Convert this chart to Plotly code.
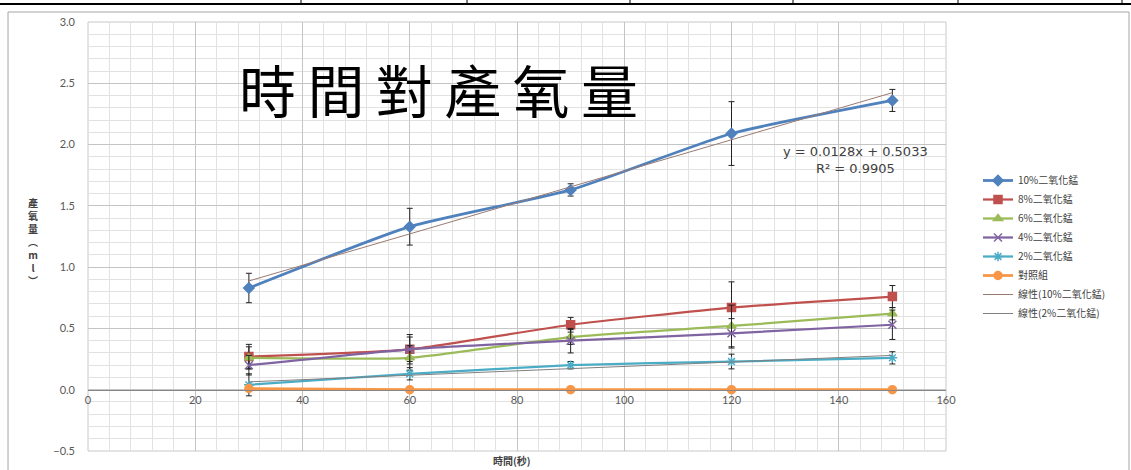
import numpy as np
import plotly.graph_objects as go

# Time points (seconds)
times = [30, 60, 90, 120, 150]

# Oxygen produced (ml), mean and error for each MnO2 concentration
o2_10 = [0.83, 1.33, 1.63, 2.09, 2.36]
err_10 = [0.12, 0.15, 0.05, 0.26, 0.09]
o2_8 = [0.27, 0.33, 0.53, 0.67, 0.76]
err_8 = [0.10, 0.12, 0.06, 0.21, 0.09]
o2_6 = [0.26, 0.26, 0.43, 0.52, 0.62]
err_6 = [0.09, 0.10, 0.06, 0.17, 0.05]
o2_4 = [0.20, 0.33, 0.40, 0.46, 0.53]
err_4 = [0.08, 0.10, 0.10, 0.12, 0.12]
o2_2 = [0.04, 0.13, 0.20, 0.23, 0.26]
err_2 = [0.09, 0.05, 0.03, 0.06, 0.05]
o2_ctrl = [0.01, 0.0, 0.0, 0.0, 0.0]

# Linear trend for the 10% series
trend10_slope = 0.0128
trend10_icept = 0.5033
trend10_r2 = 0.9905

W, H = 1131, 470
ML, MR, MT, MB = 88, 185, 22, 19
PW, PH = W - ML - MR, H - MT - MB


def px(x):
    return (x - ML) / PW


def py(y):
    return (H - MB - y) / PH


CJK = "Noto Sans CJK TC"
TICKF = dict(family="Lato, Liberation Sans, sans-serif", size=11, color="#595959")

fig = go.Figure()

series = [
    ("10%二氧化錳", o2_10, err_10, "#4F81BD", "diamond", 8, 2.75),
    ("8%二氧化錳", o2_8, err_8, "#C0504D", "square", 8, 2.25),
    ("6%二氧化錳", o2_6, err_6, "#9BBB59", "triangle-up", 8, 2.25),
    ("4%二氧化錳", o2_4, err_4, "#8064A2", "x-thin-open", 8, 2.25),
    ("2%二氧化錳", o2_2, err_2, "#4BACC6", "asterisk-open", 8, 2.25),
    ("對照組", o2_ctrl, [0] * 5, "#F79646", "circle", 8, 2.75),
]

for name, ys, errs, col, sym, size, lw in series:
    fig.add_trace(go.Scatter(
        x=times, y=ys, name=name, mode="lines+markers",
        line=dict(color=col, width=lw, shape="spline", smoothing=0.5),
        marker=dict(symbol=sym, size=size, color=col, line=dict(color=col, width=1.5)),
        error_y=dict(type="data", array=errs, visible=True,
                     color="#222222", thickness=1, width=3),
    ))

# Trend lines
tx = np.array([times[0], times[-1]], dtype=float)
fig.add_trace(go.Scatter(
    x=tx, y=trend10_slope * tx + trend10_icept, name="線性(10%二氧化錳)",
    mode="lines", line=dict(color="#9a7a72", width=1),
))
c2 = np.polyfit(times, o2_2, 1)
fig.add_trace(go.Scatter(
    x=tx, y=np.polyval(c2, tx), name="線性(2%二氧化錳)",
    mode="lines", line=dict(color="#808080", width=1),
))

annotations = [
    dict(text="\u2009".join("時間對產氧量"), xref="paper", yref="paper",
         x=px(438), y=py(88), xanchor="center", yanchor="middle",
         showarrow=False, font=dict(family=CJK, size=57, color="#000000")),
    dict(text=f"y = {trend10_slope}x + {trend10_icept}<br>R² = {trend10_r2}",
         xref="paper", yref="paper", x=px(855), y=py(160), xanchor="center", yanchor="middle",
         align="center", showarrow=False,
         font=dict(family="DejaVu Sans", size=13, color="#404040")),
    dict(text="<b>時間(秒)</b>", xref="paper", yref="paper", x=px(512), y=py(460),
         xanchor="center", yanchor="middle",
         showarrow=False, font=dict(family=CJK, size=10, color="#404040")),
    # stacked vertical y-axis title
    dict(text="<br>".join(f"<b>{ch}</b>" for ch in ["產", "氧", "量", "︵", "m", "l", "︶"]),
         xref="paper", yref="paper", x=px(33), y=py(242), xanchor="center", yanchor="middle",
         showarrow=False, font=dict(family=CJK, size=10, color="#404040")),
]

shapes = [
    # plot area frame
    dict(type="rect", xref="paper", yref="paper", x0=0, y0=0, x1=1, y1=1,
         line=dict(color="#c8c8c8", width=1), layer="below"),
    # chart area border
    dict(type="rect", xref="paper", yref="paper", x0=px(8), y0=py(490), x1=px(1129), y1=py(12),
         line=dict(color="#a6a6a6", width=1)),
    # table rule above the chart
    dict(type="line", xref="paper", yref="paper", x0=px(0), y0=py(4), x1=px(1131), y1=py(4),
         line=dict(color="#000000", width=2)),
]
for vx in [301, 467, 630, 793, 958, 1122]:
    shapes.append(dict(type="line", xref="paper", yref="paper", x0=px(vx), y0=py(0),
                       x1=px(vx), y1=py(4), line=dict(color="#000000", width=1)))

fig.update_layout(
    width=W, height=H,
    margin=dict(l=ML, r=MR, t=MT, b=MB),
    paper_bgcolor="white", plot_bgcolor="white",
    annotations=annotations, shapes=shapes,
    legend=dict(x=px(978), y=py(166), xanchor="left", yanchor="top",
                font=dict(family=CJK, size=10, color="#404040"),
                itemwidth=30, tracegroupgap=0, bgcolor="rgba(0,0,0,0)"),
    xaxis=dict(
        range=[0, 160], dtick=20, tick0=0, anchor="free", position=0.5 / 3.5,
        showline=True, linecolor="#868686", linewidth=1, ticks="",
        showgrid=True, gridcolor="#c4c4c4", gridwidth=1, zeroline=False,
        minor=dict(dtick=4, showgrid=True, gridcolor="#e2e2e2", gridwidth=1),
        tickfont=TICKF,
    ),
    yaxis=dict(
        range=[-0.5, 3.0], dtick=0.5, tick0=0, tickformat=".1f",
        showline=False, ticks="", showgrid=True, gridcolor="#c4c4c4", gridwidth=1,
        zeroline=False, ticklabelstandoff=12,
        minor=dict(dtick=0.1, showgrid=True, gridcolor="#e2e2e2", gridwidth=1),
        tickfont=TICKF,
    ),
)

fig.write_html("out.html")
